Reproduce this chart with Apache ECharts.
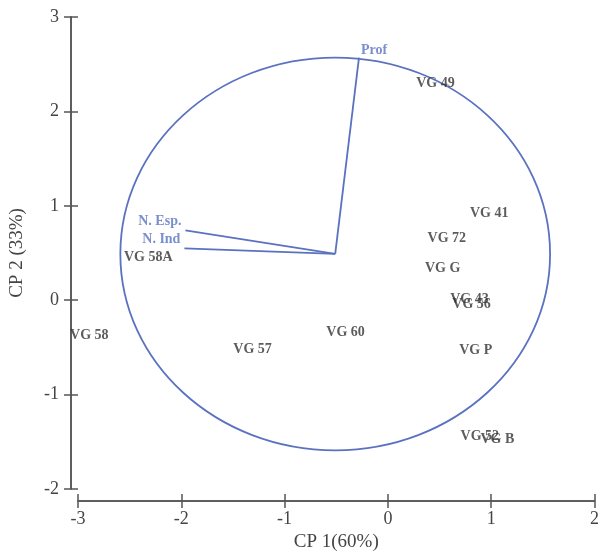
<!DOCTYPE html>
<html>
<head>
<meta charset="utf-8">
<title>CP 1 / CP 2</title>
<script src="https://cdn.jsdelivr.net/npm/echarts@6/dist/echarts.min.js"></script>
<style>
  html, body { margin: 0; padding: 0; background: #fff; }
  #chart { width: 602px; height: 557px; }
</style>
</head>
<body>
<div id="chart"></div>
<script>
// scores (variety labels)
const pointNames = ['VG 49', 'VG 41', 'VG 72', 'VG G', 'VG 43', 'VG 56', 'VG P', 'VG 52', 'VG B', 'VG 60', 'VG 57', 'VG 58', 'VG 58A']
const pointX = [0.46, 0.98, 0.57, 0.53, 0.79, 0.81, 0.85, 0.89, 1.06, -0.41, -1.31, -2.89, -2.32]
const pointY = [2.30, 0.92, 0.65, 0.34, 0.01, -0.04, -0.53, -1.44, -1.47, -0.34, -0.52, -0.37, 0.45]

// loadings (vectors from the origin)
const vectorNames = ['Prof', 'N. Esp.', 'N. Ind']
const vectorX = [-0.28, -1.96, -1.97]
const vectorY = [2.57, 0.74, 0.55]
const origin = [-0.51, 0.49]
const circleRadius = 2.08

const xTicks = { min: -3, max: 2, interval: 1 }
const yTicks = { min: -2, max: 3, interval: 1 }

const axisColor = '#555'
const blue = '#5a72c0'
const serif = 'Liberation Serif'

const chart = echarts.init(document.getElementById('chart'), null, { renderer: 'canvas' })

function baseAxis(ticks, position, offset, inside, extra) {
  return Object.assign({
    type: 'value',
    position: position,
    min: ticks.min,
    max: ticks.max,
    interval: ticks.interval,
    offset: offset,
    axisLine: { show: true, onZero: false, lineStyle: { color: axisColor, width: 1.5 } },
    axisTick: { show: true, inside: inside, length: 7, lineStyle: { color: axisColor, width: 1.5 } },
    axisLabel: { show: false },
    splitLine: { show: false },
  }, extra)
}

const labelFont = { fontFamily: serif, fontSize: 18, color: '#444' }
const nameFont = { fontFamily: serif, fontSize: 19, color: '#444' }

const vectorLines = vectorNames.map((n, i) => ({
  type: 'line',
  name: n,
  data: [origin, [vectorX[i], vectorY[i]]],
  symbol: 'none',
  lineStyle: { color: blue, width: 1.8 },
  silent: true,
  z: 3,
}))

const vectorLabelStyle = [
  { position: 'inside', offset: [15, -7] },
  { position: 'left', distance: 4, offset: [0, -9] },
  { position: 'left', distance: 4, offset: [0, -9] },
]

chart.setOption({
  animation: false,
  grid: { left: 76, right: 1, top: 17, bottom: 59 },
  xAxis: [
    baseAxis(xTicks, 'bottom', 12, false, {
      axisLabel: Object.assign({ show: true, margin: 9 }, labelFont),
      name: 'CP 1(60%)',
      nameLocation: 'middle',
      nameGap: 32,
      nameTextStyle: nameFont,
    }),
    baseAxis(xTicks, 'bottom', 12, true),
  ],
  yAxis: [
    baseAxis(yTicks, 'left', 7, false, {
      axisLabel: Object.assign({ show: true, margin: 12 }, labelFont),
      name: 'CP 2 (33%)',
      nameLocation: 'middle',
      nameGap: 44,
      nameTextStyle: nameFont,
    }),
    baseAxis(yTicks, 'left', 7, true),
  ],
  series: [
    {
      type: 'custom',
      silent: true,
      data: [[origin[0], origin[1], circleRadius]],
      renderItem: function (params, api) {
        const c = api.coord([api.value(0), api.value(1)])
        const s = api.size([api.value(2), api.value(2)])
        return {
          type: 'ellipse',
          shape: { cx: c[0], cy: c[1], rx: s[0], ry: s[1] },
          style: { fill: 'none', stroke: blue, lineWidth: 1.8 },
        }
      },
      z: 2,
    },
    ...vectorLines,
    {
      type: 'scatter',
      symbolSize: 0,
      silent: true,
      data: vectorNames.map((n, i) => ({
        value: [vectorX[i], vectorY[i]],
        name: n,
        label: vectorLabelStyle[i],
      })),
      label: {
        show: true,
        formatter: '{b}',
        fontFamily: serif,
        fontWeight: 'bold',
        fontSize: 14,
        color: blue,
      },
      z: 4,
    },
    {
      type: 'scatter',
      symbolSize: 0,
      silent: true,
      data: pointNames.map((n, i) => ({ value: [pointX[i], pointY[i]], name: n })),
      label: {
        show: true,
        position: 'inside',
        formatter: '{b}',
        fontFamily: serif,
        fontWeight: 'bold',
        fontSize: 14,
        color: '#333',
      },
      z: 4,
    },
  ],
})

window.addEventListener('resize', () => chart.resize())
</script>
</body>
</html>
